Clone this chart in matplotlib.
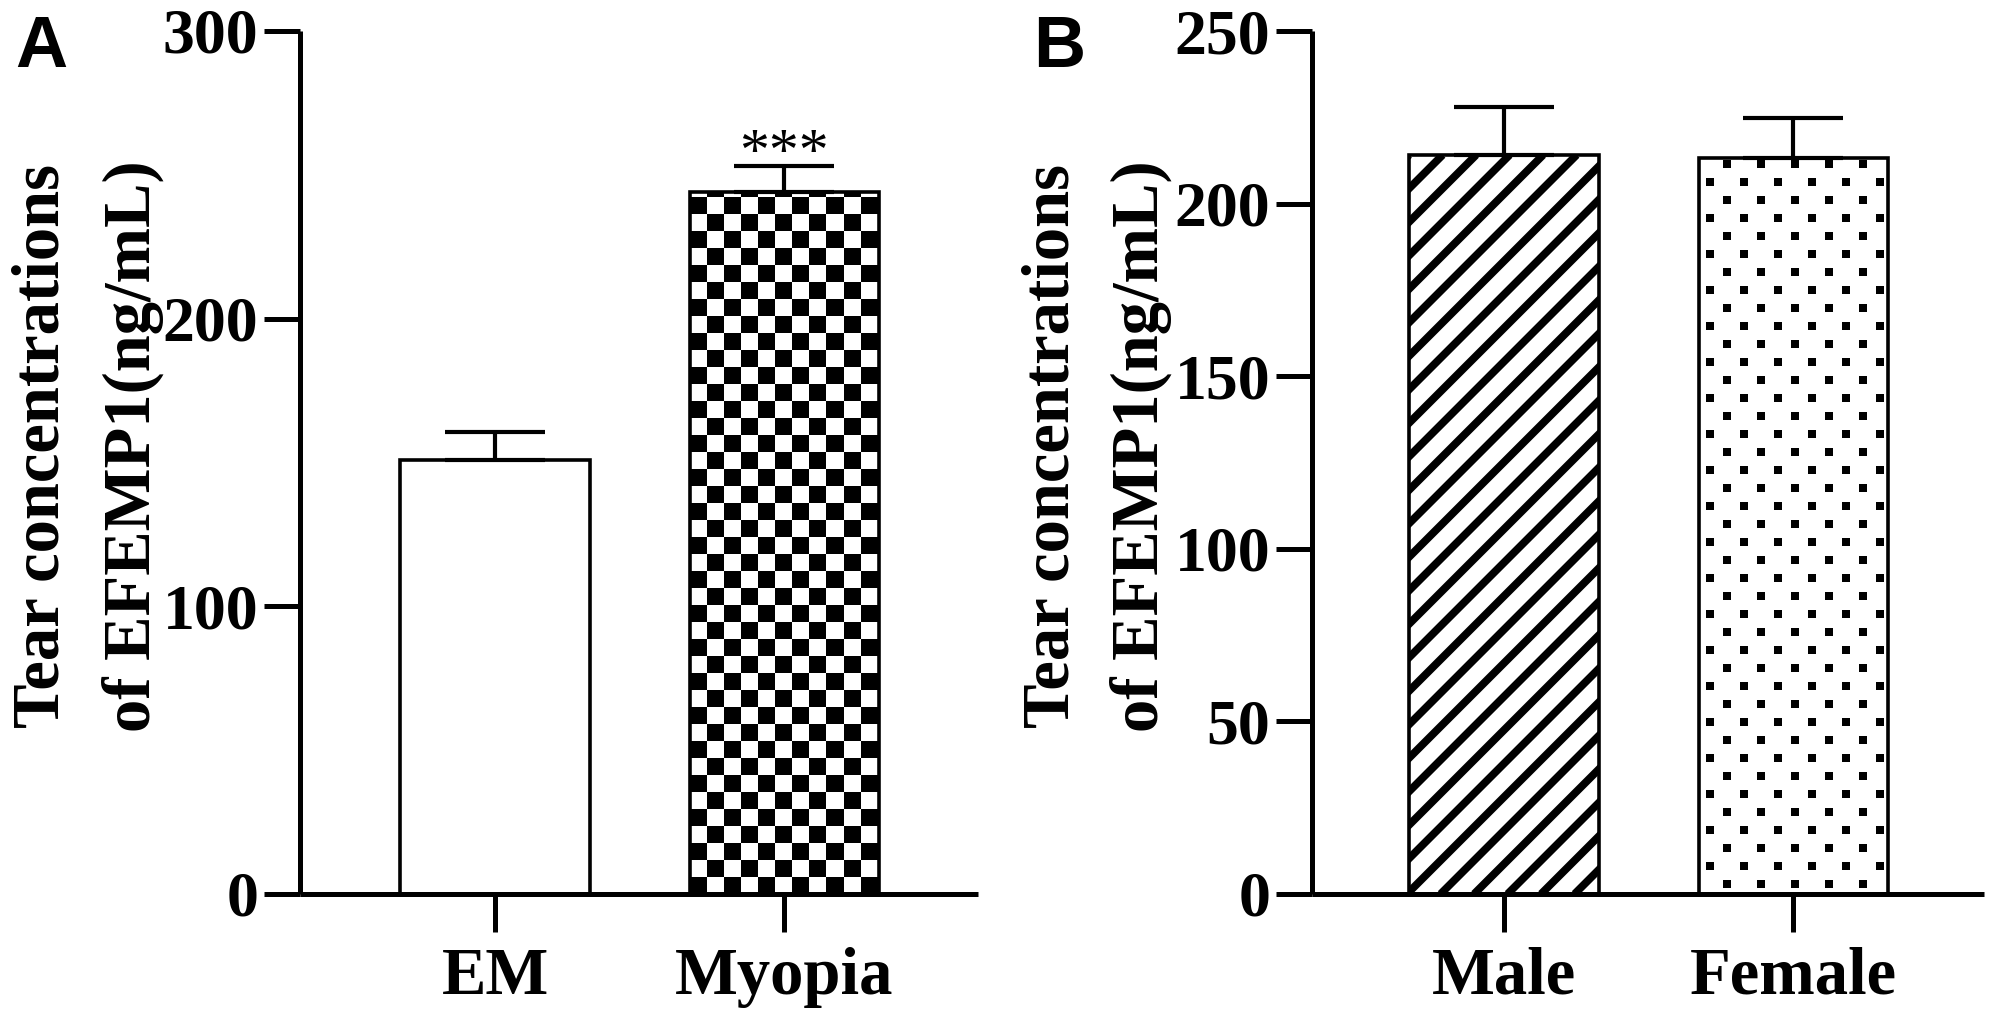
import numpy as np
import matplotlib
matplotlib.use('Agg')
import matplotlib.pyplot as plt
from matplotlib.collections import LineCollection

# ---------------- data ----------------
groups_a = ['EM', 'Myopia']
means_a = [150.9, 244.0]
sem_a = [9.7, 9.0]
groups_b = ['Male', 'Female']
means_b = [214.1, 213.2]
sem_b = [13.8, 11.6]
yticks_a = [0, 100, 200, 300]
yticks_b = [0, 50, 100, 150, 200, 250]
ylabel_lines = ['Tear concentrations', 'of EFEMP1(ng/mL)']
sig_a = '***'
panel_labels = ['A', 'B']

# ---------------- layout ----------------
W, H, DPI = 1995, 1010, 100
fig = plt.figure(figsize=(W / DPI, H / DPI), dpi=DPI)
fig.patch.set_facecolor('white')

SERIF = ['Liberation Serif', 'DejaVu Serif']
SANS = ['Liberation Sans', 'DejaVu Sans']


def px_rect(l, r, top, bottom):
    return [l / W, 1 - bottom / H, (r - l) / W, (bottom - top) / H]


AX_TOP, AX_BOT = 31, 894
rectA = (300, 978)
rectB = (1312, 1984)
axA = fig.add_axes(px_rect(rectA[0], rectA[1], AX_TOP, AX_BOT))
axB = fig.add_axes(px_rect(rectB[0], rectB[1], AX_TOP, AX_BOT))

xlimA = (-0.675, 1.670)
xlimB = (-0.663, 1.658)
ylimA = (0, 300)
ylimB = (0, 250)
BAR_W = 0.655
LW_SPINE = 3.6
LW_BAR = 2.6
LW_ERR = 3.0


def style_axes(ax, xlim, ylim, yticks, groups):
    ax.set_xlim(*xlim)
    ax.set_ylim(*ylim)
    for s in ['top', 'right']:
        ax.spines[s].set_visible(False)
    for s in ['left', 'bottom']:
        ax.spines[s].set_linewidth(LW_SPINE)
        ax.spines[s].set_capstyle('butt')
    ax.set_yticks(yticks)
    ax.set_yticklabels([str(t) for t in yticks], fontsize=46,
                       fontweight='bold', family=SERIF)
    ax.set_xticks(range(len(groups)))
    ax.set_xticklabels(groups, fontsize=48, fontweight='bold', family=SERIF)
    ax.tick_params(axis='y', length=26, width=LW_SPINE, pad=4)
    ax.tick_params(axis='x', length=27, width=LW_SPINE, pad=11)
    ax.set_facecolor('none')


def draw_bars(ax, means, sems):
    x = np.arange(len(means))
    base = ax.bar(x, means, width=BAR_W, color='white', edgecolor='none',
                  zorder=1)
    ax.bar(x, means, width=BAR_W, fill=False, edgecolor='black',
           linewidth=LW_BAR, zorder=2.5)
    ax.errorbar(x, means, yerr=[np.zeros(len(means)), sems], fmt='none',
                ecolor='black', elinewidth=LW_ERR, capsize=36,
                capthick=LW_ERR, zorder=3)
    return list(base.patches)


# ---------------- panel A ----------------
barsA = draw_bars(axA, means_a, sem_a)
px_x_A = (rectA[1] - rectA[0]) / (xlimA[1] - xlimA[0])
px_y_A = (AX_BOT - AX_TOP) / (ylimA[1] - ylimA[0])

# checkerboard texture on Myopia bar
cb = barsA[1]
sq = 17.0
x0 = cb.get_x()
wpx = cb.get_width() * px_x_A
hpx = cb.get_height() * px_y_A
ncol = int(np.ceil(wpx / sq)) + 1
nrow = int(np.ceil(hpx / sq)) + 1
checker = (np.indices((nrow, ncol)).sum(axis=0) % 2).astype(float)
img = axA.imshow(checker, cmap='gray', vmin=0, vmax=1,
                 interpolation='nearest', origin='lower', aspect='auto',
                 extent=[x0, x0 + ncol * sq / px_x_A, 0, nrow * sq / px_y_A],
                 zorder=1.5)
img.set_clip_path(cb)

style_axes(axA, xlimA, ylimA, yticks_a, groups_a)
axA.text(1, 252, sig_a, ha='center', va='baseline', fontsize=43,
         family=SERIF, zorder=4)

# ---------------- panel B ----------------
barsB = draw_bars(axB, means_b, sem_b)
px_x_B = (rectB[1] - rectB[0]) / (xlimB[1] - xlimB[0])
px_y_B = (AX_BOT - AX_TOP) / (ylimB[1] - ylimB[0])

# diagonal stripes on Male bar
mb = barsB[0]
x0 = mb.get_x()
wpx = mb.get_width() * px_x_B
hpx = mb.get_height() * px_y_B
period = 33.5
segs = []
u = -hpx
while u < wpx + period:
    segs.append([(x0 + u / px_x_B, 0), (x0 + (u + hpx) / px_x_B, hpx / px_y_B)])
    u += period
lc = LineCollection(segs, colors='black', linewidths=5.6, zorder=1.5,
                    capstyle='butt')
axB.add_collection(lc)
lc.set_clip_path(mb)

# staggered dots on Female bar
fb = barsB[1]
x0 = fb.get_x()
wpx = fb.get_width() * px_x_B
hpx = fb.get_height() * px_y_B
dx_list, dy_list = [], []
k = 0
yv = 10.0
while yv < hpx + 20:
    xs = 28.0 if k % 2 == 0 else 11.0
    while xs < wpx + 20:
        dx_list.append(x0 + xs / px_x_B)
        dy_list.append(yv / px_y_B)
        xs += 34.0
    yv += 18.0
    k += 1
sc = axB.scatter(dx_list, dy_list, s=26, marker='s', color='black',
                 linewidths=0, zorder=1.5)
sc.set_clip_path(fb)

style_axes(axB, xlimB, ylimB, yticks_b, groups_b)

# ---------------- labels ----------------
for xc, txt in zip([42, 133], ylabel_lines):
    fig.text(xc / W, 1 - 446 / H, txt, rotation=90, ha='center', va='center',
             fontsize=48, fontweight='bold', family=SERIF)
for xc, txt in zip([1052, 1141], ylabel_lines):
    fig.text(xc / W, 1 - 446 / H, txt, rotation=90, ha='center', va='center',
             fontsize=48, fontweight='bold', family=SERIF)

fig.text(15 / W, 1 - 14 / H, panel_labels[0], ha='left', va='top',
         fontsize=52, fontweight='bold', family=SANS)
fig.text(1033 / W, 1 - 14 / H, panel_labels[1], ha='left', va='top',
         fontsize=52, fontweight='bold', family=SANS)

fig.savefig('out.png', dpi=DPI, facecolor='white')
